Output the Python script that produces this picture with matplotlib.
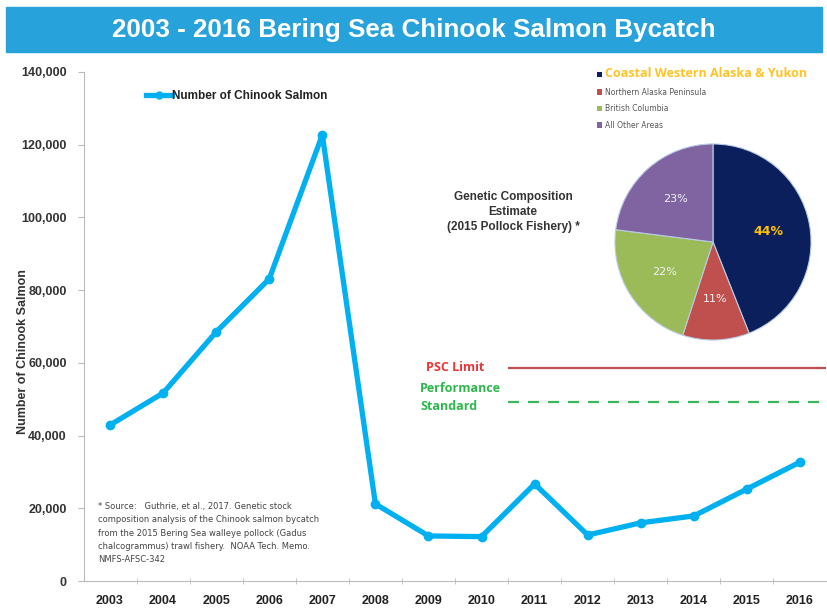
import matplotlib
matplotlib.use("Agg")
import matplotlib.pyplot as plt
from matplotlib.patches import Rectangle
from matplotlib.lines import Line2D

years = ["2003", "2004", "2005", "2006", "2007", "2008", "2009", "2010",
         "2011", "2012", "2013", "2014", "2015", "2016"]
chinook = [42900, 51700, 68500, 83100, 122700, 21200, 12400, 12200,
           26700, 12650, 16000, 17900, 25300, 32700]
psc_limit = 58600
performance_standard = 49200
yticks = [0, 20000, 40000, 60000, 80000, 100000, 120000, 140000]

pie_labels = ["Coastal Western Alaska & Yukon", "Northern Alaska Peninsula",
              "British Columbia", "All Other Areas"]
pie_values = [44, 11, 22, 23]
pie_colors = ["#0B1F5C", "#C0504D", "#9BBB59", "#8064A2"]

footnote = ("* Source:   Guthrie, et al., 2017. Genetic stock\n"
            "composition analysis of the Chinook salmon bycatch\n"
            "from the 2015 Bering Sea walleye pollock (Gadus\n"
            "chalcogrammus) trawl fishery.  NOAA Tech. Memo.\n"
            "NMFS-AFSC-342")

NARROW = ["Liberation Sans", "DejaVu Sans"]

fig = plt.figure(figsize=(8.27, 6.10), dpi=100)
fig.patch.set_facecolor("white")

# Title bar
fig.patches.append(Rectangle((6/827, 1 - 52/610), 816/827, 45/610,
                             transform=fig.transFigure, facecolor="#27A2DB",
                             edgecolor="#27A2DB", zorder=0))
fig.text(0.5, 1 - 30/610, "2003 - 2016 Bering Sea Chinook Salmon Bycatch",
         ha="center", va="center", color="white", fontsize=18.7,
         fontweight="bold", family=NARROW)

ax = fig.add_axes([83.5/827, 29/610, 743/827, 509/610])
x = list(range(len(years)))
ax.plot(x, chinook, color="#00B0F0", lw=3.8, marker="o", ms=6,
        solid_joinstyle="round", zorder=3, label="Number of Chinook Salmon")
ax.set_xlim(-0.5, len(years) - 0.5)
ax.set_ylim(0, 140000)
ax.set_yticks(yticks)
ax.set_yticklabels([f"{v:,}" for v in yticks], fontsize=9, fontweight="bold",
                   color="#333333", family=NARROW)
ax.set_xticks(x)
ax.set_xticklabels(years, fontsize=9, fontweight="bold", color="#222222",
                   family=NARROW)
ax.set_xticks([i + 0.5 for i in x[:-1]], minor=True)
ax.tick_params(axis="x", which="major", length=0, pad=10)
ax.tick_params(axis="x", which="minor", length=4, color="#BBBBBB", direction="inout")
ax.tick_params(axis="y", length=4, color="#BBBBBB", pad=8)
for s in ["top", "right"]:
    ax.spines[s].set_visible(False)
for s in ["left", "bottom"]:
    ax.spines[s].set_color("#BBBBBB")
ax.set_ylabel("Number of Chinook Salmon", fontsize=9, fontweight="bold",
              color="#333333", family=NARROW)
ax.yaxis.set_label_coords(-0.074, 0.45)

ax.hlines(psc_limit, 7.5, 13.5, color="#C0504D", lw=1.6, zorder=2)
ax.hlines(performance_standard, 7.5, 13.5, color="#3CB85C", lw=1.6,
          linestyles=(0, (5, 4)), zorder=2)
ax.text(5.95, psc_limit, "PSC Limit", color="#EE3333", fontsize=9,
        fontweight="bold", ha="left", va="center", family="Open Sans")
ax.text(5.84, performance_standard + 1300, "Performance\nStandard",
        color="#2DB84C", fontsize=9, fontweight="bold", ha="left",
        va="center", linespacing=1.55, family="Open Sans")

ax.text(0.02, 0.155, footnote, transform=ax.transAxes, fontsize=6,
        color="#444444", va="top", ha="left", linespacing=1.6)

leg = ax.legend(handles=[Line2D([0], [0], color="#00B0F0", lw=3.8, marker="o", ms=5)],
                labels=["Number of Chinook Salmon"], loc="upper left",
                bbox_to_anchor=(0.07, 0.985), frameon=False, handlelength=2.2,
                handletextpad=0.0, prop={"size": 8.5, "weight": "bold",
                                         "family": NARROW})
for t in leg.get_texts():
    t.set_color("#222222")

fig.text(513/827, 1 - 212/610,
         "Genetic Composition\nEstimate\n(2015 Pollock Fishery) *",
         ha="center", va="center", fontsize=8.5, fontweight="bold",
         color="#333333", linespacing=1.35, family=NARROW)

# Pie
pax = fig.add_axes([613/827, 1 - 342/610, 200/827, 200/610])
wedges, texts, autotexts = pax.pie(
    pie_values, colors=pie_colors, startangle=90, counterclock=False,
    autopct="%d%%", pctdistance=0.58,
    wedgeprops=dict(edgecolor="#B8CCE4", linewidth=0.8))
pax.set_xlim(-1.02, 1.02)
pax.set_ylim(-1.02, 1.02)
pax.set_aspect("equal")
for i, t in enumerate(autotexts):
    t.set_fontsize(9 if i == 0 else 8)
    t.set_fontweight("bold" if i == 0 else "normal")
    t.set_color("#FFC000" if i == 0 else "#F2F2F2")

pleg = fig.legend(wedges, pie_labels, loc="upper left",
                  bbox_to_anchor=(590/827, 1 - 60/610), frameon=False,
                  handlelength=0.7, handleheight=0.7, handletextpad=0.4,
                  labelspacing=1.0, prop={"size": 5.5})
ptexts = pleg.get_texts()
ptexts[0].set_color("#FFC425")
ptexts[0].set_fontsize(9)
ptexts[0].set_fontweight("bold")
ptexts[0].set_family("Open Sans")
for t in ptexts[1:]:
    t.set_color("#555555")
for h in pleg.legend_handles:
    h.set_edgecolor("none")

fig.savefig("out.png", dpi=100, facecolor="white")
